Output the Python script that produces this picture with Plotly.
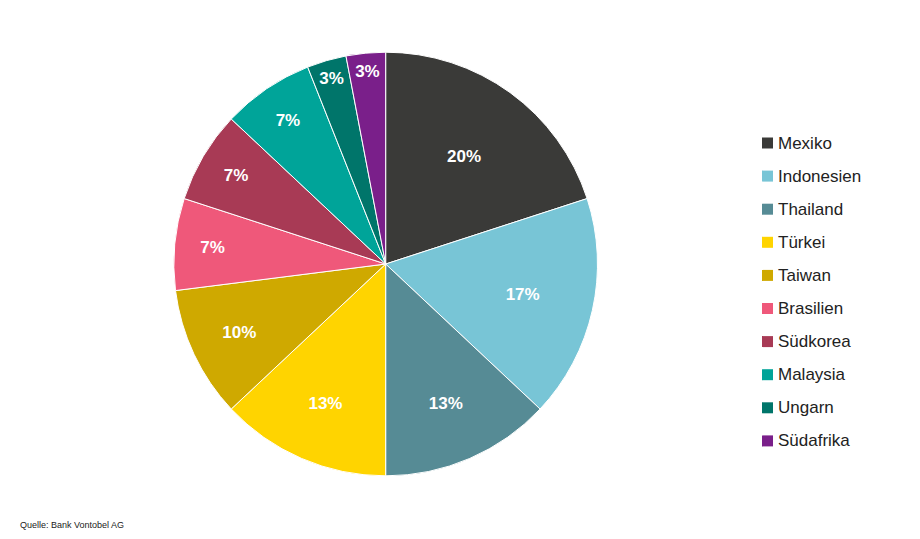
import plotly.graph_objects as go

countries = ["Mexiko", "Indonesien", "Thailand", "Türkei", "Taiwan",
             "Brasilien", "Südkorea", "Malaysia", "Ungarn", "Südafrika"]
shares = [20, 17, 13, 13, 10, 7, 7, 7, 3, 3]
colors = ["#3a3a38", "#78c5d6", "#568b95", "#ffd400", "#cfa900",
          "#ef587a", "#a83a55", "#00a499", "#00756a", "#7a1f8a"]

fig = go.Figure()
fig.add_pie(
    labels=countries, values=shares, sort=False, direction="clockwise", rotation=0,
    marker=dict(colors=colors, line=dict(color="white", width=1)),
    texttemplate="<b>%{value}%</b>", textposition="inside", insidetextorientation="horizontal",
    textfont=dict(color="white", size=17, family="Arial"),
    domain=dict(x=[0.18, 0.641], y=[0.132, 0.918]),
    hoverinfo="label+percent", showlegend=False,
)

# legend drawn by hand to get the wide row spacing
annots = []
shapes = []
for i, (name, col) in enumerate(zip(countries, colors)):
    yc = 135 + i * 33.1
    yp = 1 - yc / 539
    shapes.append(dict(type="rect", xref="paper", yref="paper",
                       x0=754 / 920, x1=765 / 920, y0=yp - 5.5 / 539, y1=yp + 5.5 / 539,
                       fillcolor=col, line=dict(width=0)))
    annots.append(dict(text=name, x=768 / 920, y=yp, xref="paper", yref="paper",
                       xanchor="left", yanchor="middle", showarrow=False,
                       font=dict(size=17, color="#222")))
annots.append(dict(text="Quelle: Bank Vontobel AG", x=0.011, y=1 - 517 / 539,
                   xref="paper", yref="paper", xanchor="left", yanchor="middle",
                   showarrow=False, font=dict(size=9, color="#222")))

fig.update_layout(
    width=920, height=539, margin=dict(l=0, r=0, t=0, b=0),
    paper_bgcolor="white", font=dict(family="Arial", color="#222"),
    annotations=annots, shapes=shapes,
)
fig.write_html("out.html")
